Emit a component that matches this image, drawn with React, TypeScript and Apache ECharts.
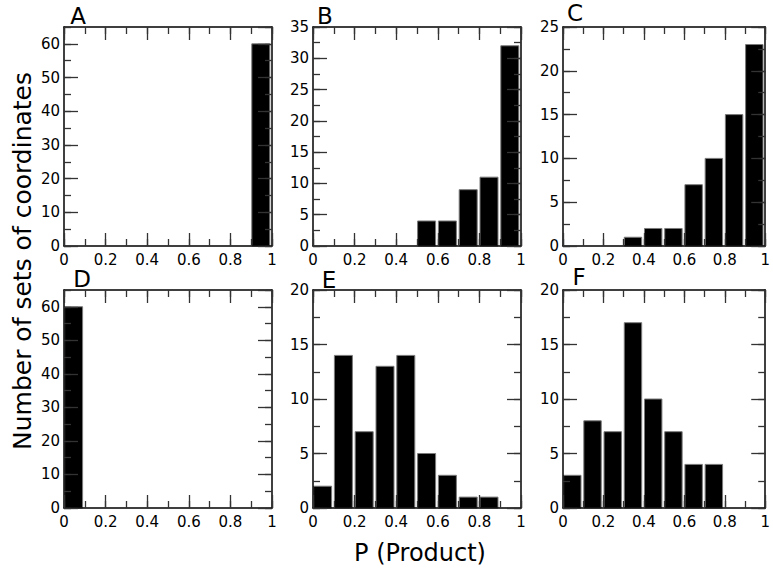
import React, { useEffect, useRef } from "react";
import * as echarts from "echarts";

const binStarts = [0, 0.1, 0.2, 0.3, 0.4, 0.5, 0.6, 0.7, 0.8, 0.9];
const binWidth = 0.1;
const countsA = [0, 0, 0, 0, 0, 0, 0, 0, 0, 60];
const countsB = [0, 0, 0, 0, 0, 4, 4, 9, 11, 32];
const countsC = [0, 0, 0, 1, 2, 2, 7, 10, 15, 23];
const countsD = [60, 0, 0, 0, 0, 0, 0, 0, 0, 0];
const countsE = [2, 14, 7, 13, 14, 5, 3, 1, 1, 0];
const countsF = [3, 8, 7, 17, 10, 7, 4, 4, 0, 0];
const panelLetters = ["A", "B", "C", "D", "E", "F"];
const yMaxes = [65, 35, 25, 65, 20, 20];
const yMajorSteps = [10, 5, 5, 10, 5, 5];
const xMajorStep = 0.2;
const xMinorStep = 0.1;
const yTitle = "Number of sets of coordinates";
const xTitle = "P (Product)";

const allCounts = [countsA, countsB, countsC, countsD, countsE, countsF];

const FONT = "'DejaVu Sans', sans-serif";

export default function App() {
  const ref = useRef<HTMLDivElement>(null);
  useEffect(() => {
    if (!ref.current) return;
    const chart = echarts.init(ref.current, null, { renderer: "svg" });

    const lefts = [64, 313, 563];
    const widths = [208, 208, 207];
    const tops = [27, 290];
    const heights = [219, 218];

    const grids: any[] = [];
    const xAxes: any[] = [];
    const yAxes: any[] = [];
    const series: any[] = [];
    const graphics: any[] = [];

    const letterPos = [
      [78, 16],
      [325, 16],
      [575, 13],
      [82, 279],
      [329, 280],
      [579, 277],
    ];

    for (let i = 0; i < 6; i++) {
      const col = i % 3;
      const row = Math.floor(i / 3);
      grids.push({
        left: lefts[col],
        top: tops[row],
        width: widths[col],
        height: heights[row],
        containLabel: false,
      });
      const tickColor = "#333";
      const baseX = {
        gridIndex: i,
        type: "value",
        min: 0,
        max: 1,
        splitLine: { show: false },
        z: 5,
      };
      const xi = xAxes.length;
      xAxes.push({
        ...baseX,
        position: "bottom",
        interval: xMajorStep,
        axisLine: { show: true, onZero: false, lineStyle: { color: "#000", width: 1.5 } },
        axisTick: { show: true, inside: true, length: 13, lineStyle: { color: tickColor, width: 1.3 } },
        axisLabel: { show: true, color: "#000", fontSize: 15, fontFamily: FONT, margin: 6 },
      });
      xAxes.push({
        ...baseX,
        position: "bottom",
        interval: xMinorStep,
        axisLine: { show: false, onZero: false },
        axisTick: { show: true, inside: true, length: 7, lineStyle: { color: tickColor, width: 1.3 } },
        axisLabel: { show: false },
      });
      xAxes.push({
        ...baseX,
        position: "top",
        interval: xMajorStep,
        axisLine: { show: true, onZero: false, lineStyle: { color: "#000", width: 1.5 } },
        axisTick: { show: true, inside: true, length: 13, lineStyle: { color: tickColor, width: 1.3 } },
        axisLabel: { show: false },
      });
      xAxes.push({
        ...baseX,
        position: "top",
        interval: xMinorStep,
        axisLine: { show: false, onZero: false },
        axisTick: { show: true, inside: true, length: 7, lineStyle: { color: tickColor, width: 1.3 } },
        axisLabel: { show: false },
      });

      const baseY = {
        gridIndex: i,
        type: "value",
        min: 0,
        max: yMaxes[i],
        splitLine: { show: false },
        z: 5,
      };
      const yi = yAxes.length;
      yAxes.push({
        ...baseY,
        position: "left",
        interval: yMajorSteps[i],
        axisLine: { show: true, onZero: false, lineStyle: { color: "#000", width: 1.5 } },
        axisTick: { show: true, inside: true, length: 14, lineStyle: { color: tickColor, width: 1.3 } },
        axisLabel: {
          show: true,
          color: "#000",
          fontSize: 15,
          fontFamily: FONT,
          margin: 4,
          showMaxLabel: yMaxes[i] % yMajorSteps[i] === 0,
        },
      });
      yAxes.push({
        ...baseY,
        position: "left",
        interval: yMajorSteps[i] / 2,
        axisLine: { show: false, onZero: false },
        axisTick: { show: true, inside: true, length: 7, lineStyle: { color: tickColor, width: 1.3 } },
        axisLabel: { show: false },
      });
      yAxes.push({
        ...baseY,
        position: "right",
        interval: yMajorSteps[i],
        axisLine: { show: true, onZero: false, lineStyle: { color: "#000", width: 1.5 } },
        axisTick: { show: true, inside: true, length: 14, lineStyle: { color: tickColor, width: 1.3 } },
        axisLabel: { show: false },
      });
      yAxes.push({
        ...baseY,
        position: "right",
        interval: yMajorSteps[i] / 2,
        axisLine: { show: false, onZero: false },
        axisTick: { show: true, inside: true, length: 7, lineStyle: { color: tickColor, width: 1.3 } },
        axisLabel: { show: false },
      });

      const data = binStarts
        .map((b, k) => [b, b + binWidth, allCounts[i][k]])
        .filter((d) => d[2] > 0);

      series.push({
        type: "custom",
        xAxisIndex: xi,
        yAxisIndex: yi,
        z: 2,
        data,
        renderItem: (params: any, api: any) => {
          const x0 = api.value(0);
          const x1 = api.value(1);
          const y = api.value(2);
          const p0 = api.coord([x0, 0]);
          const p1 = api.coord([x1, y]);
          const pad0 = 0.6;
          const pad1 = 2.2;
          return {
            type: "rect",
            shape: {
              x: p0[0] + pad0,
              y: p1[1],
              width: p1[0] - p0[0] - pad0 - pad1,
              height: p0[1] - p1[1],
            },
            style: { fill: "#000", stroke: "#7a7a7a", lineWidth: 1 },
          };
        },
      });

      graphics.push({
        type: "text",
        x: letterPos[i][0],
        y: letterPos[i][1],
        style: {
          text: panelLetters[i],
          fontSize: 23,
          fontFamily: FONT,
          fill: "#000",
          align: "center",
          verticalAlign: "middle",
        },
      });
    }

    graphics.push({
      type: "text",
      x: 22,
      y: 261,
      rotation: Math.PI / 2,
      style: {
        text: yTitle,
        fontSize: 25,
        fontFamily: FONT,
        fill: "#000",
        align: "center",
        verticalAlign: "middle",
      },
    });
    graphics.push({
      type: "text",
      x: 420,
      y: 553,
      style: {
        text: xTitle,
        fontSize: 24,
        fontFamily: FONT,
        fill: "#000",
        align: "center",
        verticalAlign: "middle",
      },
    });

    chart.setOption({
      animation: false,
      backgroundColor: "#fff",
      grid: grids,
      xAxis: xAxes,
      yAxis: yAxes,
      series,
      graphic: graphics,
    });
    return () => chart.dispose();
  }, []);
  return <div ref={ref} style={{ width: 773, height: 568, position: "absolute", left: 0, top: 0 }} />;
}
